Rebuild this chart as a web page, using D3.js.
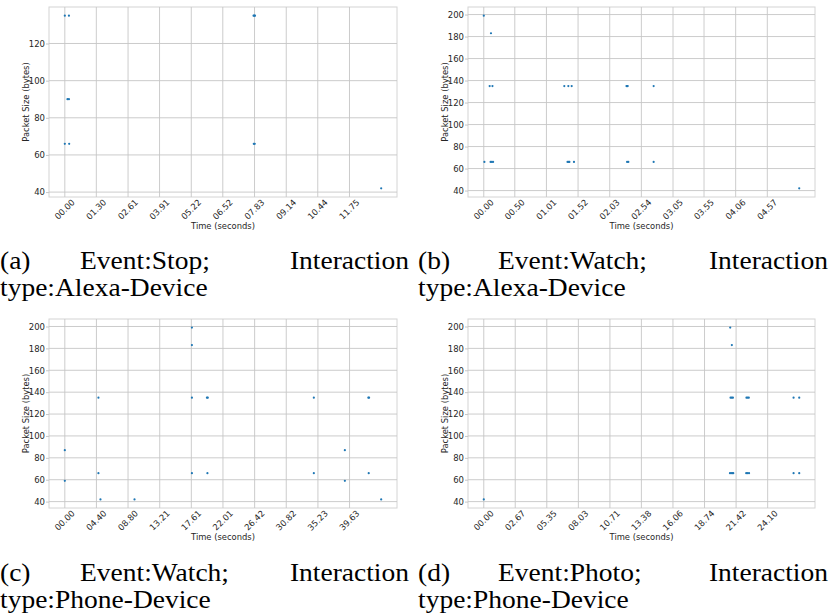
<!DOCTYPE html>
<html>
<head>
<meta charset="utf-8">
<script src="https://cdn.jsdelivr.net/npm/d3@7/dist/d3.min.js"></script>
<style>
  html, body { margin: 0; padding: 0; background: #ffffff; }
  svg { display: block; }
</style>
</head>
<body>
<svg id="fig" width="830" height="615"></svg>
<script>
// ---- packet traces: time (s) and packet size (bytes) per capture ----
const stopAlexaTime = [0.00, 0.17, 0.11, 0.17, 0.00, 0.18, 7.79, 7.82, 7.85, 7.80, 7.84, 13.058];
const stopAlexaSize = [135, 135, 90, 90, 66, 66, 135, 135, 135, 66, 66, 42];

const watchAlexaTime = [0.00, 0.116, 0.095, 0.14, 0.01, 0.11, 0.13, 0.15,
  1.298, 1.363, 1.417, 1.35, 1.37, 1.38, 1.454,
  2.30, 2.31, 2.32, 2.31, 2.33, 2.738, 2.738, 5.0845];
const watchAlexaSize = [199, 183, 135, 135, 66, 66, 66, 66,
  135, 135, 135, 66, 66, 66, 66,
  135, 135, 135, 66, 66, 135, 66, 42];

const watchPhoneTime = [0.00, 0.00, 4.68, 4.68, 4.96, 9.70,
  17.69, 17.69, 17.69, 17.69, 19.78, 19.90, 19.85,
  34.66, 34.66, 38.98, 38.98, 42.25, 42.35, 42.30, 44.035];
const watchPhoneSize = [87, 59, 135, 66, 42, 42,
  199, 183, 135, 66, 135, 135, 66,
  135, 66, 87, 59, 135, 135, 66, 42];

const photoPhoneTime = [0.00, 20.92, 21.06, 20.95, 21.05, 21.15, 20.90, 21.00, 21.10, 21.18,
  22.30, 22.40, 22.50, 22.28, 22.40, 22.52, 26.30, 26.30, 26.78, 26.78];
const photoPhoneSize = [42, 199, 183, 135, 135, 135, 66, 66, 66, 66,
  135, 135, 135, 66, 66, 66, 135, 66, 135, 66];

// ---- tick labels ----
const stopAlexaXTicks  = ["00.00", "01.30", "02.61", "03.91", "05.22", "06.52", "07.83", "09.14", "10.44", "11.75"];
const watchAlexaXTicks = ["00.00", "00.50", "01.01", "01.52", "02.03", "02.54", "03.05", "03.55", "04.06", "04.57"];
const watchPhoneXTicks = ["00.00", "04.40", "08.80", "13.21", "17.61", "22.01", "26.42", "30.82", "35.23", "39.63"];
const photoPhoneXTicks = ["00.00", "02.67", "05.35", "08.03", "10.71", "13.38", "16.06", "18.74", "21.42", "24.10"];
const smallYTicks = [40, 60, 80, 100, 120];
const largeYTicks = [40, 60, 80, 100, 120, 140, 160, 180, 200];

// ---- captions ----
const captionLabels = ["(a)", "(b)", "(c)", "(d)"];
const captionEvents = ["Event:Stop;", "Event:Watch;", "Event:Watch;", "Event:Photo;"];
const captionTypes  = ["type:Alexa-Device", "type:Alexa-Device", "type:Phone-Device", "type:Phone-Device"];

const panels = [
  { time: stopAlexaTime,  size: stopAlexaSize,  xTicks: stopAlexaXTicks,  yTicks: smallYTicks, left: 49,  top: 7,   right: 397, bottom: 197 },
  { time: watchAlexaTime, size: watchAlexaSize, xTicks: watchAlexaXTicks, yTicks: largeYTicks, left: 468, top: 7,   right: 815, bottom: 197 },
  { time: watchPhoneTime, size: watchPhoneSize, xTicks: watchPhoneXTicks, yTicks: largeYTicks, left: 49,  top: 319, right: 397, bottom: 508 },
  { time: photoPhoneTime, size: photoPhoneSize, xTicks: photoPhoneXTicks, yTicks: largeYTicks, left: 468, top: 319, right: 815, bottom: 508 }
];

const svg = d3.select("#fig");
const defs = svg.append("defs");
const sansFont = "DejaVu Sans, sans-serif";
const textColor = "#262626";
const gridColor = "#c6c6c6";
const pointColor = "#1f77b4";

// pad a data extent by 5% on each side
function padded(ext) {
  const span = ext[1] - ext[0];
  return [ext[0] - span * 0.05, ext[1] + span * 0.05];
}

panels.forEach((p, i) => {
  const x = d3.scaleLinear().domain(padded(d3.extent(p.time))).range([p.left, p.right]);
  const y = d3.scaleLinear().domain(padded(d3.extent(p.size))).range([p.bottom, p.top]);
  const g = svg.append("g");

  // frame
  g.append("rect")
    .attr("x", p.left).attr("y", p.top)
    .attr("width", p.right - p.left).attr("height", p.bottom - p.top)
    .attr("fill", "#ffffff").attr("stroke", "#d4d4d4").attr("stroke-width", 1);

  const xVals = p.xTicks.map(Number);

  // grid
  g.append("g").selectAll("line").data(xVals).join("line")
    .attr("x1", d => x(d)).attr("x2", d => x(d))
    .attr("y1", p.top).attr("y2", p.bottom)
    .attr("stroke", gridColor).attr("stroke-width", 0.9);
  g.append("g").selectAll("line").data(p.yTicks).join("line")
    .attr("x1", p.left).attr("x2", p.right)
    .attr("y1", d => y(d)).attr("y2", d => y(d))
    .attr("stroke", gridColor).attr("stroke-width", 0.9);

  // y axis labels
  const yAxis = d3.axisLeft(y).tickValues(p.yTicks).tickSize(3).tickPadding(1).tickFormat(d3.format("d"));
  const ya = g.append("g").attr("transform", `translate(${p.left},0)`).call(yAxis);
  ya.select(".domain").remove();
  ya.selectAll(".tick line").attr("stroke", gridColor);
  ya.selectAll("text").attr("fill", textColor).style("font-family", sansFont).style("font-size", "8.5px");

  // x axis labels run along a 45-degree guide centred under each tick
  const cy = p.bottom + 11.5 + 3;
  const guideId = k => `xguide-${i}-${k}`;
  defs.selectAll(null).data(p.xTicks).join("path")
    .attr("id", (d, k) => guideId(k))
    .attr("d", d => {
      const cx = x(+d) + 2;
      return `M${cx - 20},${cy + 20}L${cx + 20},${cy - 20}`;
    });
  g.append("g").selectAll("text").data(p.xTicks).join("text")
    .attr("fill", textColor)
    .style("font-family", sansFont).style("font-size", "8.5px")
    .append("textPath")
    .attr("href", (d, k) => "#" + guideId(k))
    .attr("startOffset", "50%")
    .attr("text-anchor", "middle")
    .text(d => d);

  // axis titles
  g.append("text")
    .attr("x", (p.left + p.right) / 2).attr("y", p.bottom + 29).attr("dy", "0.35em")
    .attr("text-anchor", "middle").attr("fill", textColor)
    .style("font-family", sansFont).style("font-size", "8.4px")
    .text("Time (seconds)");
  g.append("text")
    .attr("transform", `translate(${p.left - 23},${(p.top + p.bottom) / 2}) rotate(-90)`)
    .attr("dy", "0.35em")
    .attr("text-anchor", "middle").attr("fill", textColor)
    .style("font-family", sansFont).style("font-size", "8.4px")
    .text("Packet Size (bytes)");

  // packets
  const pts = p.time.map((t, k) => ({ t, s: p.size[k] }));
  g.append("g").selectAll("circle").data(pts).join("circle")
    .attr("cx", d => x(d.t)).attr("cy", d => y(d.s))
    .attr("r", 1.1).attr("fill", pointColor);

  // caption under the panel
  const colLeft = i % 2 === 0 ? 0 : 418;
  const colRight = i % 2 === 0 ? 409 : 828;
  const base1 = i < 2 ? 269 : 581;
  const base2 = base1 + 27;
  const cap = svg.append("g")
    .style("font-family", "Liberation Serif, Times New Roman, serif")
    .style("font-size", "25px").attr("fill", "#000000");
  const stretch = sel => {
    const n = sel.node();
    sel.attr("textLength", n.getComputedTextLength() * 1.1).attr("lengthAdjust", "spacingAndGlyphs");
    return sel;
  };
  stretch(cap.append("text").attr("x", colLeft).attr("y", base1).text(captionLabels[i]));
  stretch(cap.append("text").attr("x", colLeft + 80).attr("y", base1).text(captionEvents[i]));
  stretch(cap.append("text").attr("x", colRight).attr("y", base1).attr("text-anchor", "end").text("Interaction"));
  stretch(cap.append("text").attr("x", colLeft).attr("y", base2).text(captionTypes[i]));
});
</script>
</body>
</html>
